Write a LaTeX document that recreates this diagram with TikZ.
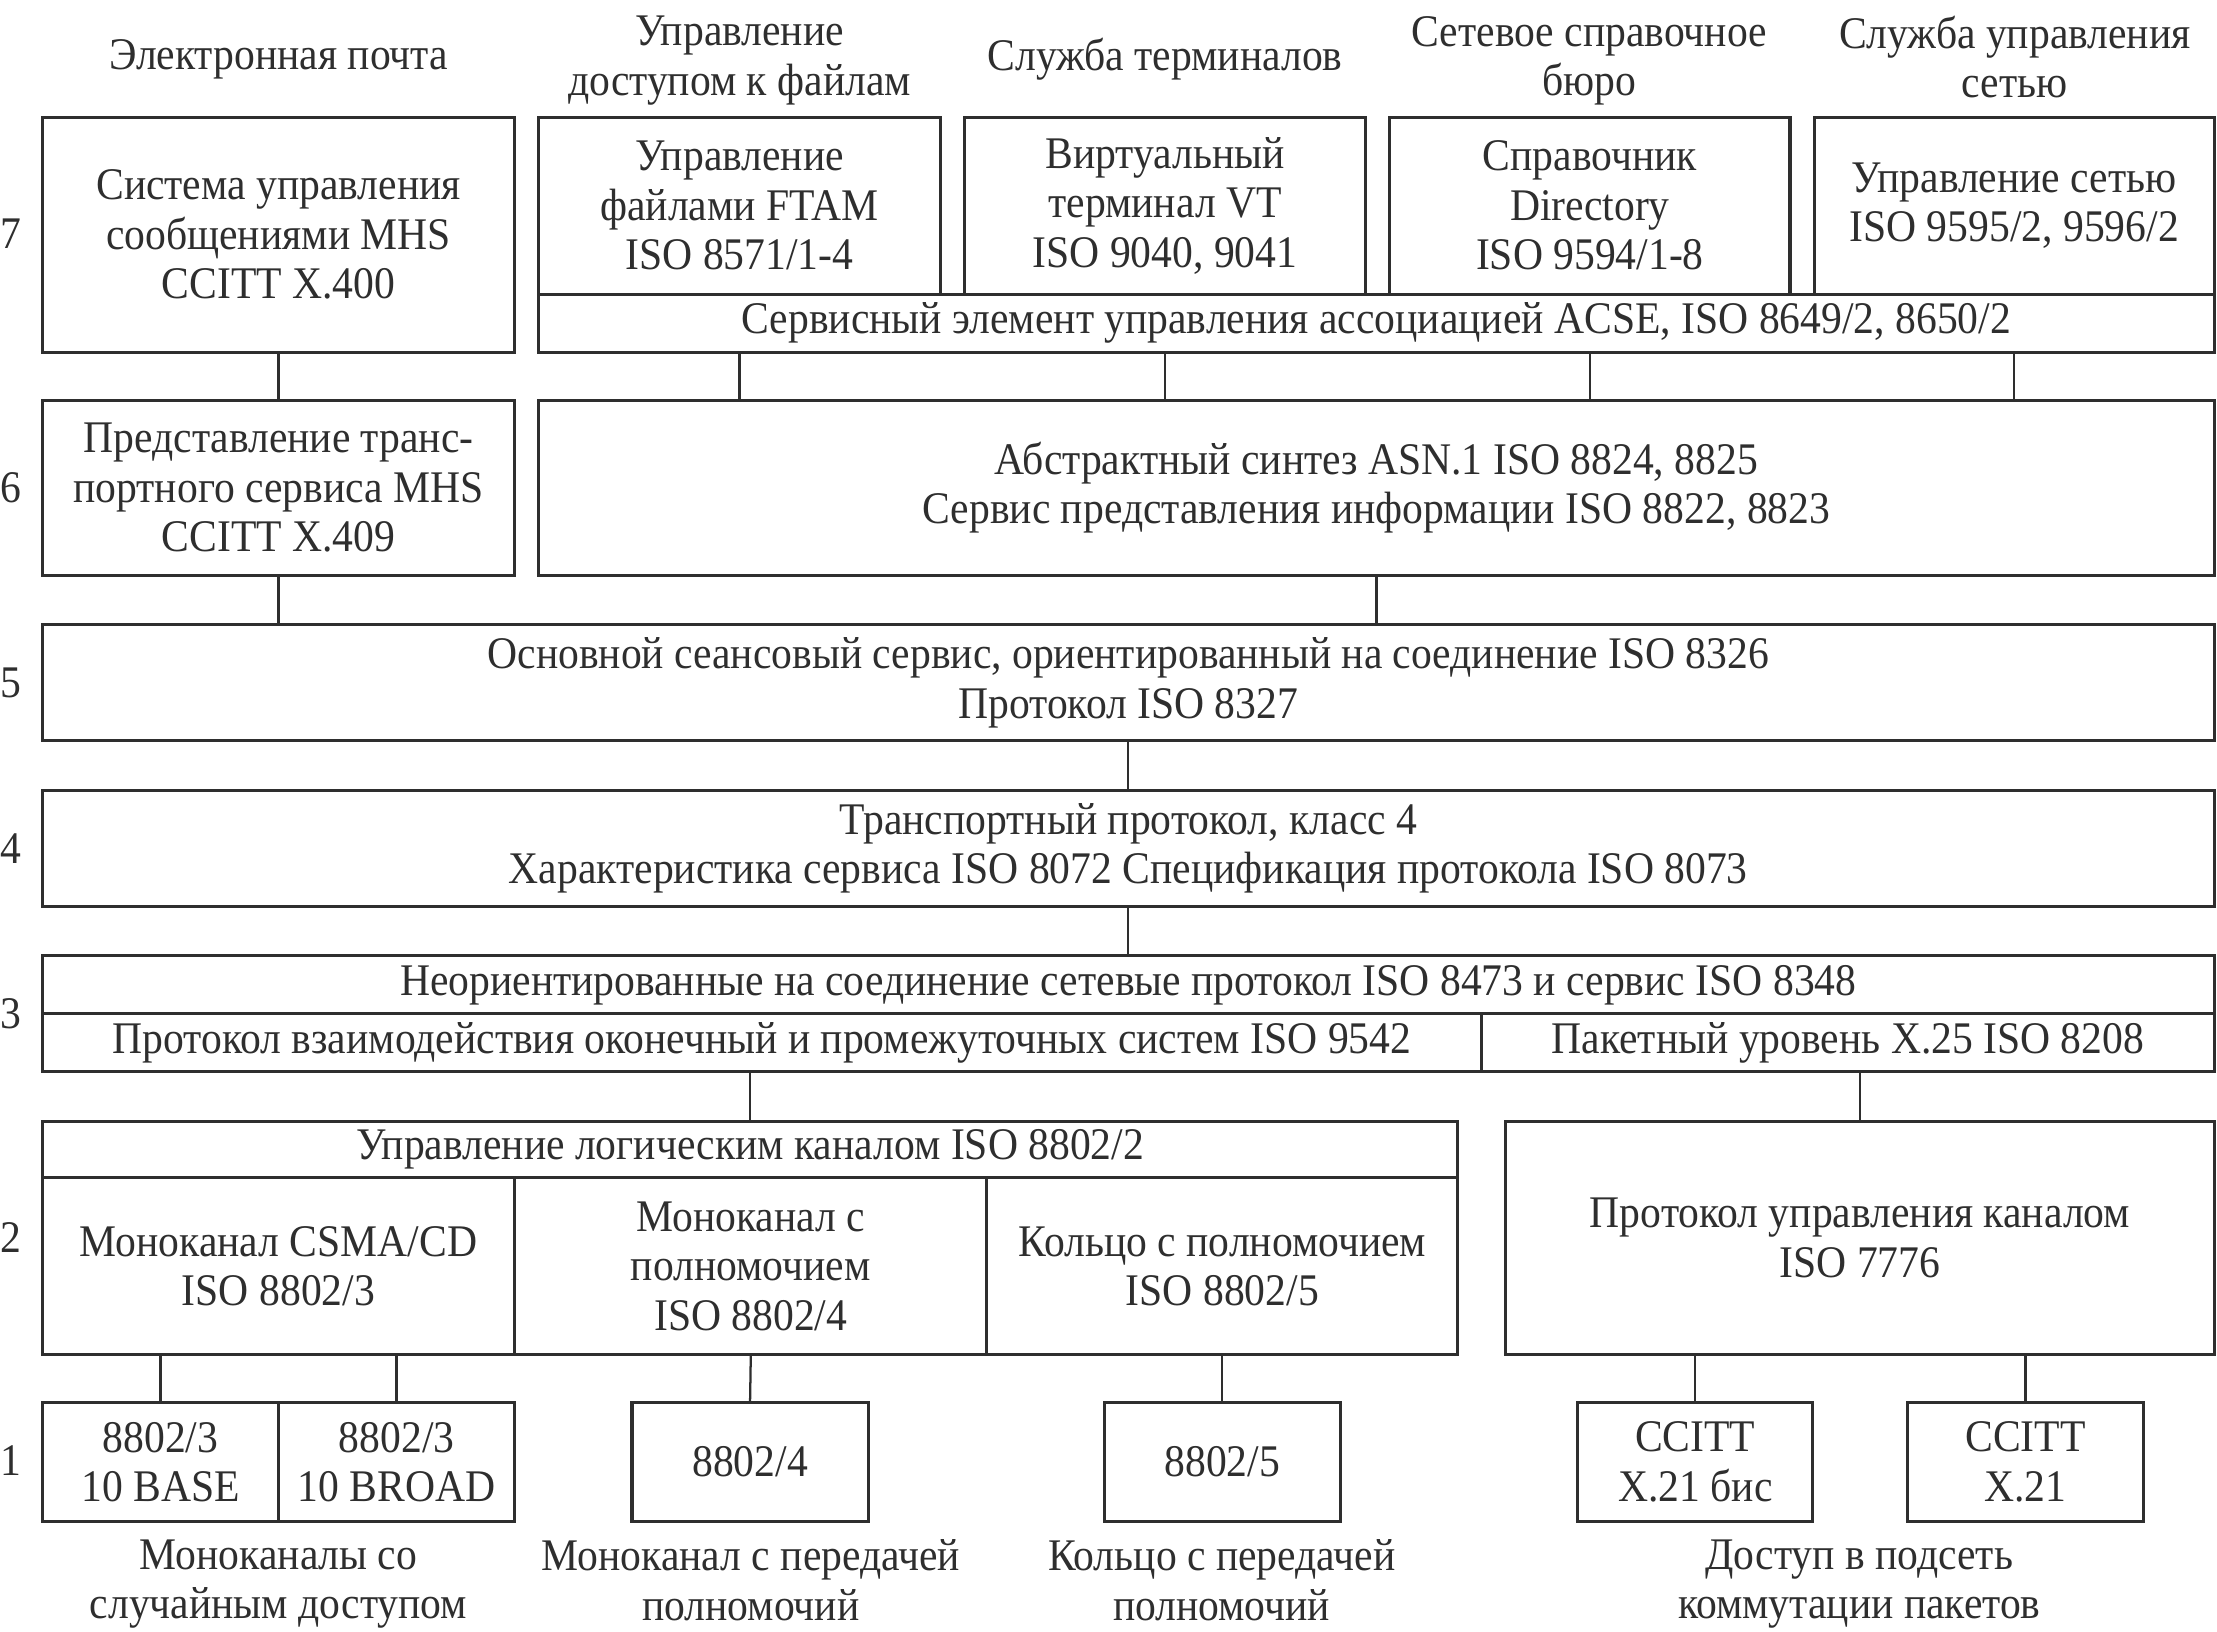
\documentclass[tikz,border=0pt]{standalone}
\usepackage{fontspec}
\setmainfont[FakeStretch=0.92]{Liberation Serif}
\usetikzlibrary{fit}
\definecolor{lc}{HTML}{2E2E2E}
\newcommand\fs{\fontsize{16}{17.5}\selectfont}
\begin{document}
\begin{tikzpicture}[x=0.5pt,y=-0.5pt,
  box/.style={draw=lc, line width=1.1pt, inner sep=0pt},
  lbl/.style={inner sep=0pt, align=center, text=lc, font=\fs},
  txt/.style={label={[lbl]center:{#1}}},
  conn/.style={draw=lc, line width=0.8pt}]
\useasboundingbox (0,0) rectangle (1568,1154);
% top labels
\node[lbl] (t1) at (197,42) {Электронная почта};
\node[lbl] (t2) at (523,43) {Управление\\доступом к файлам};
\node[lbl] (t3) at (824,42) {Служба терминалов};
\node[lbl] (t4) at (1124,43) {Сетевое справочное\\бюро};
\node[lbl] (t5) at (1425,40.5) {Служба управления\\сетью};
% layer numbers
\node[lbl] (n7) at (8,165) {7};
\node[lbl] (n6) at (8,345) {6};
\node[lbl] (n5) at (8,483) {5};
\node[lbl] (n4) at (8,600) {4};
\node[lbl] (n3) at (8,717) {3};
\node[lbl] (n2) at (8,875) {2};
\node[lbl] (n1) at (8,1033) {1};
% layer 7
\node[box, fit={(30,83)(364,249)}, txt={Система управления\\сообщениями MHS\\CCITT X.400}] (mhs7) {};
\node[box, fit={(381,83)(665,208)}, txt={Управление\\файлами FTAM\\ISO 8571/1-4}] (ftam) {};
\node[box, fit={(682,83)(966,208)}, txt={Виртуальный\\терминал VT\\ISO 9040, 9041}] (vt) {};
\node[box, fit={(983,83)(1266,208)}, txt={Справочник\\Directory\\ISO 9594/1-8}] (dir) {};
\node[box, fit={(1283,83)(1566,208)}, txt={Управление сетью\\ISO 9595/2, 9596/2}] (net) {};
\node[box, fit={(381,208)(1566,249)}, txt={Сервисный элемент управления ассоциацией ACSE, ISO 8649/2, 8650/2}] (acse) {};
% layer 6
\node[box, fit={(30,283)(364,407)}, txt={Представление транс-\\портного сервиса MHS\\CCITT X.409}] (mhs6) {};
\node[box, fit={(381,283)(1566,407)}, txt={Абстрактный синтез ASN.1 ISO 8824, 8825\\Сервис представления информации ISO 8822, 8823}] (asn) {};
% layer 5, 4
\node[box, fit={(30,442)(1566,524)}, txt={Основной сеансовый сервис, ориентированный на соединение ISO 8326\\Протокол ISO 8327}] (l5) {};
\node[box, fit={(30,559)(1566,641)}, txt={Транспортный протокол, класс 4\\Характеристика сервиса ISO 8072 Спецификация протокола ISO 8073}] (l4) {};
% layer 3
\node[box, fit={(30,676)(1566,717)}, txt={Неориентированные на соединение сетевые протокол ISO 8473 и сервис ISO 8348}] (l3t) {};
\node[box, fit={(30,717)(1048,758)}, txt={Протокол взаимодействия оконечный и промежуточных систем ISO 9542}] (l3l) {};
\node[box, fit={(1048,717)(1566,758)}, txt={Пакетный уровень X.25 ISO 8208}] (l3r) {};
% layer 2
\node[box, fit={(30,793)(1031,833)}, txt={Управление логическим каналом ISO 8802/2}] (llc) {};
\node[box, fit={(30,833)(364,958)}, txt={Моноканал CSMA/CD\\ISO 8802/3}] (csma) {};
\node[box, fit={(364,833)(698,958)}, txt={Моноканал с\\полномочием\\ISO 8802/4}] (tbus) {};
\node[box, fit={(698,833)(1031,958)}, txt={Кольцо с полномочием\\ISO 8802/5}] (tring) {};
\node[box, fit={(1065,793)(1566,958)}, txt={Протокол управления каналом\\ISO 7776}] (hdlc) {};
% layer 1
\node[box, fit={(30,992)(197,1076)}, txt={8802/3\\10 BASE}] (base) {};
\node[box, fit={(197,992)(364,1076)}, txt={8802/3\\10 BROAD}] (broad) {};
\node[box, fit={(447,992)(614,1076)}, txt={8802/4}] (p4) {};
\node[box, fit={(781,992)(948,1076)}, txt={8802/5}] (p5) {};
\node[box, fit={(1116,992)(1282,1076)}, txt={CCITT\\X.21 бис}] (x21b) {};
\node[box, fit={(1349,992)(1516,1076)}, txt={CCITT\\X.21}] (x21) {};
% bottom labels
\node[lbl] (b1) at (197,1120.5) {Моноканалы со\\случайным доступом};
\node[lbl] (b2) at (531,1117.5) {Моноканал с передачей\\полномочий};
\node[lbl] (b3) at (864,1117.5) {Кольцо с передачей\\полномочий};
\node[lbl] (b4) at (1315,1120.5) {Доступ в подсеть\\коммутации пакетов};
% connectors
\draw[conn] (mhs7.south) -- (mhs6.north);
\draw[conn] (ftam.south |- acse.south) -- (ftam.south |- asn.north);
\draw[conn] (vt.south |- acse.south) -- (vt.south |- asn.north);
\draw[conn] (dir.south |- acse.south) -- (dir.south |- asn.north);
\draw[conn] (net.south |- acse.south) -- (net.south |- asn.north);
\draw[conn] (mhs6.south) -- (mhs6.south |- l5.north);
\draw[conn] (asn.south) -- (asn.south |- l5.north);
\draw[conn] (l5.south) -- (l4.north);
\draw[conn] (l4.south) -- (l3t.north);
\draw[conn] (llc.north |- l3l.south) -- (llc.north);
\draw[conn] (hdlc.north |- l3r.south) -- (hdlc.north);
\draw[conn] (base.north |- csma.south) -- (base.north);
\draw[conn] (broad.north |- csma.south) -- (broad.north);
\draw[conn] (tbus.south) -- (p4.north);
\draw[conn] (tring.south) -- (p5.north);
\draw[conn] (x21b.north |- hdlc.south) -- (x21b.north);
\draw[conn] (x21.north |- hdlc.south) -- (x21.north);
\end{tikzpicture}
\end{document}
